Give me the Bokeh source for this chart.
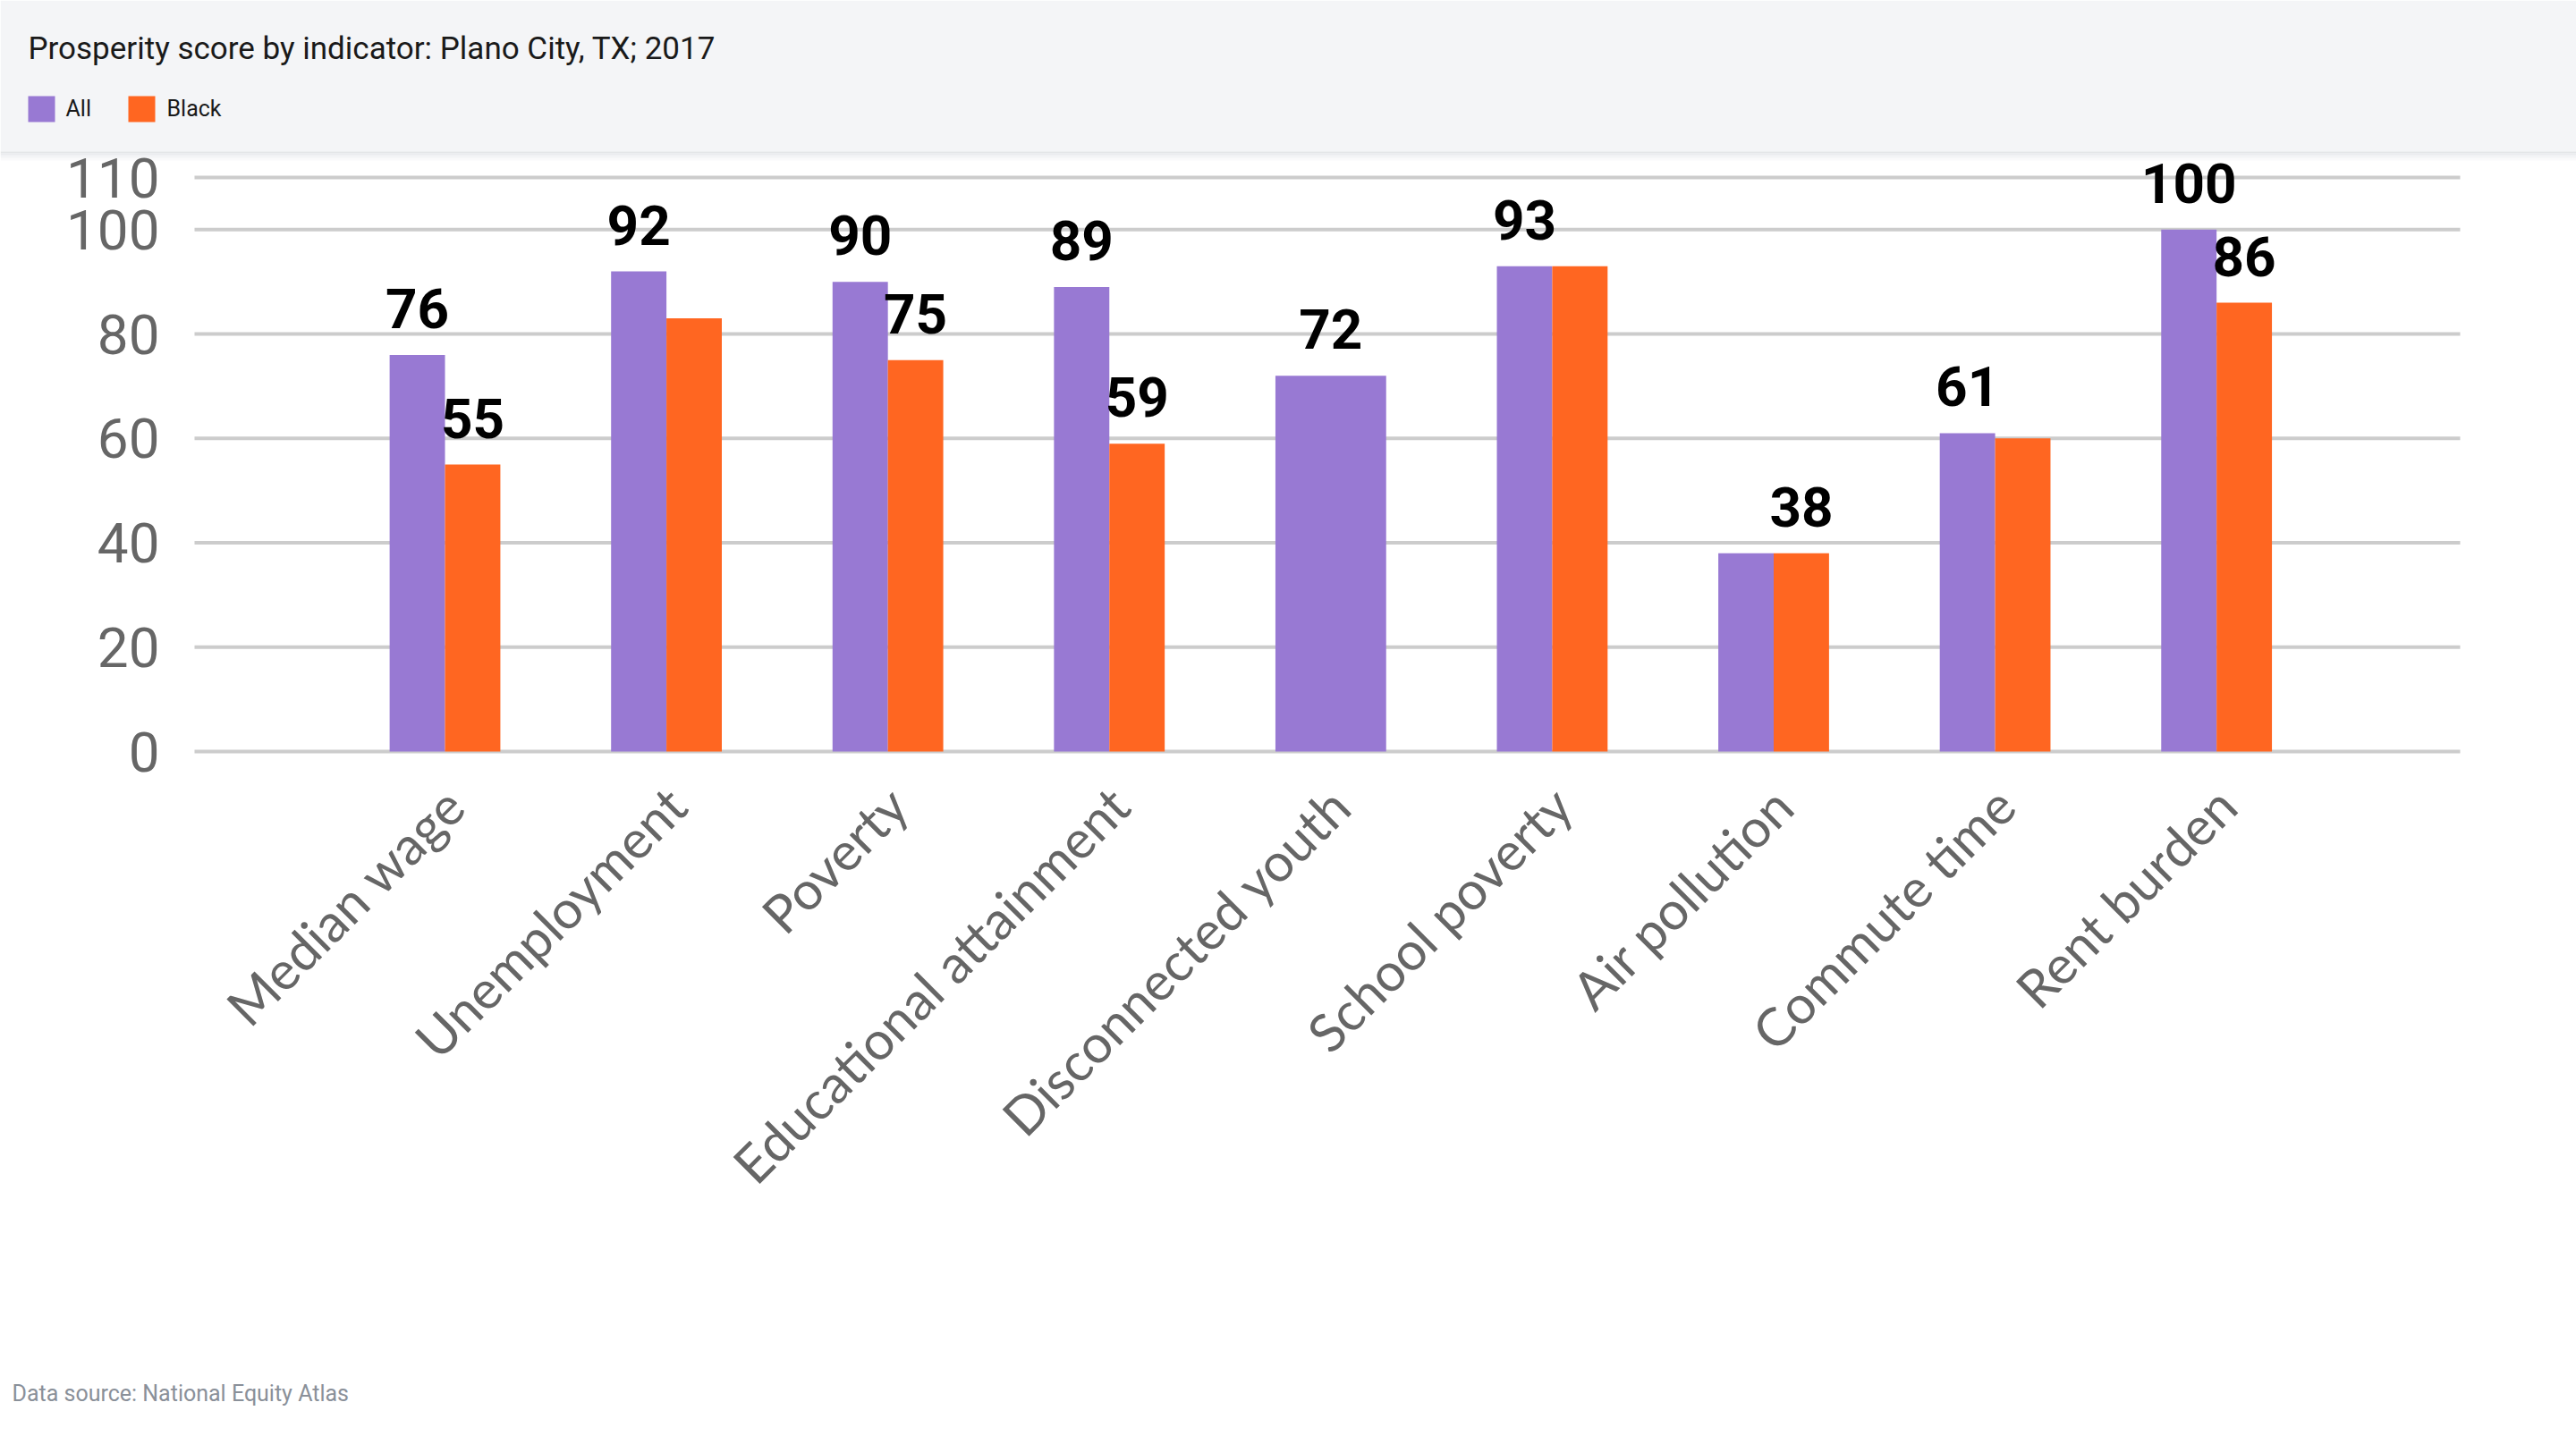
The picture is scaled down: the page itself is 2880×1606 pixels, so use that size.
import math
from bokeh.plotting import figure
from bokeh.models import ColumnDataSource, Range1d
from bokeh.core.properties import value
from bokeh.embed import file_html
from bokeh.resources import INLINE

# ---------------- data ----------------
title_text = "Prosperity score by indicator: Plano City, TX; 2017"
source_text = "Data source: National Equity Atlas"
categories = ["Median wage", "Unemployment", "Poverty", "Educational attainment",
              "Disconnected youth", "School poverty", "Air pollution",
              "Commute time", "Rent burden"]
all_scores = [76, 92, 90, 89, 72, 93, 38, 61, 100]
black_scores = [55, 83, 75, 59, None, 93, 38, 60, 86]
all_label_shown = [True, True, True, True, True, True, False, True, True]
black_label_shown = [True, False, True, True, False, False, True, False, True]
series_names = ["All", "Black"]
series_colors = ["#9879d3", "#ff6621"]
y_ticks = [0, 20, 40, 60, 80, 100, 110]

# ---------------- layout (page pixels) ----------------
W, H = 2880, 1600
HEAD_BOTTOM = 169
PLOT_L, PLOT_R = 217, 2750          # gridline extent
Y110_PX, Y0_PX = 198, 840           # screen rows of the 110 and 0 gridlines
XMIN, XMAX = -1.131, 9.1            # category axis extent in data units
HEAD_BG = "#f4f5f7"

S = (PLOT_R - PLOT_L) / (XMAX - XMIN)
PXU = (Y0_PX - Y110_PX) / 110.0
x_range = Range1d(XMIN - PLOT_L / S, XMAX + (W - PLOT_R) / S)
y_range = Range1d(-(H - Y0_PX) / PXU, 110 + Y110_PX / PXU)

p = figure(width=W, height=H, x_range=x_range, y_range=y_range,
           output_backend="svg", toolbar_location=None,
           x_axis_location=None, y_axis_location=None, min_border=0)
p.extra_x_ranges = {"px": Range1d(0, W)}
p.extra_y_ranges = {"px": Range1d(H, 0)}
p.grid.visible = False
p.outline_line_color = None
p.background_fill_color = "white"
p.border_fill_color = "white"

PX = dict(x_range_name="px", y_range_name="px")

# header band and its soft shadow
p.quad(left=[0], right=[W], top=[0], bottom=[HEAD_BOTTOM], fill_color=HEAD_BG, line_color=None, **PX)
shade = ["#e3e5e8", "#eaebee", "#f0f1f3", "#f5f6f7", "#fafafb"]
for k, c in enumerate(shade):
    p.quad(left=[0], right=[W], top=[HEAD_BOTTOM + 2 * k], bottom=[HEAD_BOTTOM + 2 * k + 2],
           fill_color=c, line_color=None, **PX)

# title
p.text(x=[31], y=[53.5], text=[title_text], text_font=value("Roboto"),
       text_font_size="35px", text_color="#1a1a1a", text_baseline="alphabetic", **PX)

# legend
leg_left = [31, 143]
leg_text_x = [73, 186]
p.quad(left=leg_left, right=[l + 30 for l in leg_left], top=[107, 107], bottom=[136, 136],
       fill_color=series_colors, line_color=None, **PX)
p.text(x=leg_text_x, y=[121, 121], text=series_names, text_font=value("Roboto"),
       text_font_size="25px", text_color="#1a1a1a", text_baseline="middle", **PX)

# gridlines
p.segment(x0=[XMIN] * len(y_ticks), x1=[XMAX] * len(y_ticks), y0=y_ticks, y1=y_ticks,
          line_color="#cccccc", line_width=4)

# y tick labels
p.text(x=[178] * len(y_ticks), y=y_ticks, text=[str(t) for t in y_ticks],
       x_range_name="px", text_align="right", text_baseline="middle",
       text_font=value("Roboto"), text_font_size="62px", text_color="#666666")

# bars
n = len(categories)
bw = 0.25
all_x, all_w, blk_x, blk_top = [], [], [], []
for i in range(n):
    if black_scores[i] is None:
        all_x.append(i)
        all_w.append(2 * bw)
    else:
        all_x.append(i - bw / 2)
        all_w.append(bw)
        blk_x.append(i + bw / 2)
        blk_top.append(black_scores[i])

p.vbar(x=all_x, width=all_w, top=all_scores, bottom=0, fill_color=series_colors[0], line_color=None)
p.vbar(x=blk_x, width=bw, top=blk_top, bottom=0, fill_color=series_colors[1], line_color=None)

# value labels
lab_x, lab_y, lab_t = [], [], []
for i in range(n):
    if all_label_shown[i]:
        lab_x.append(all_x[i]); lab_y.append(all_scores[i]); lab_t.append(str(round(all_scores[i])))
    if black_scores[i] is not None and black_label_shown[i]:
        lab_x.append(i + bw / 2); lab_y.append(black_scores[i]); lab_t.append(str(round(black_scores[i])))
src = ColumnDataSource(dict(x=lab_x, y=lab_y, t=lab_t))
p.text(x="x", y="y", text="t", source=src, text_align="center", text_baseline="alphabetic",
       y_offset=-52, text_font=value("Roboto"), text_font_style="bold",
       text_font_size="62px", text_color="#000000")

# category labels, rotated
cat_src = ColumnDataSource(dict(x=list(range(n)), y=[0] * n, t=categories))
p.text(x="x", y="y", text="t", source=cat_src, angle=math.pi / 4, x_offset=11, y_offset=50,
       text_align="right", text_baseline="middle", text_font=value("Lato"),
       text_font_size="59px", text_color="#666666")

# footer
p.text(x=[13], y=[1558], text=[source_text], text_font=value("Roboto"),
       text_font_size="25px", text_color="#8a9099", text_baseline="middle", **PX)

open("out.html", "w").write(file_html(p, INLINE))
